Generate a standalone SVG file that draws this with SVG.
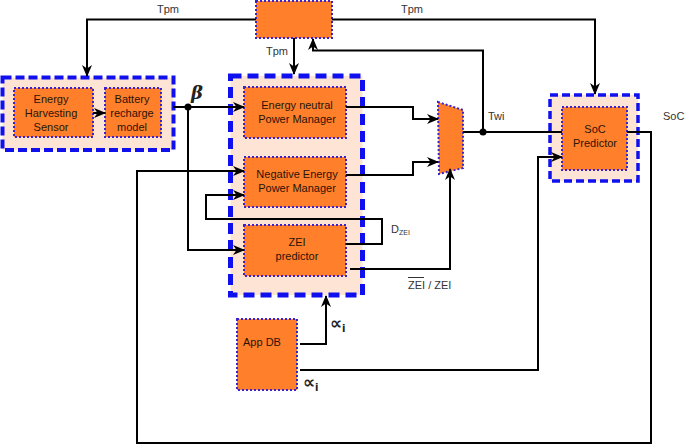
<svg xmlns="http://www.w3.org/2000/svg" width="685" height="447" viewBox="0 0 685 447">
<defs>
<marker id="arr" markerUnits="userSpaceOnUse" markerWidth="12" markerHeight="10" refX="11" refY="5" orient="auto">
<path d="M0,0 L12,5 L0,10 L3.5,5 z" fill="#000"/>
</marker>
<style>
.outer{fill:#fde4d4;stroke:#1010ee;stroke-width:5;stroke-dasharray:11 6}
.outerS{fill:#fde4d4;stroke:#1010ee;stroke-width:4;stroke-dasharray:9 4}
.blk{fill:#ff7f2a;stroke:#3a22cc;stroke-width:2;stroke-dasharray:2 2}
.t{font-family:"Liberation Sans",Arial,sans-serif;font-size:11px;fill:#2a1408;text-anchor:middle}
.ts{font-family:"Liberation Sans",Arial,sans-serif;font-size:11px;fill:#2a1408;text-anchor:start}
.lbl{font-family:"Liberation Sans",Arial,sans-serif;font-size:11px;fill:#333}
.w{fill:none;stroke:#000;stroke-width:2}
.sym{font-family:"DejaVu Sans",sans-serif;font-size:17px;font-weight:bold;fill:#222}
</style>
</defs>
<rect width="685" height="447" fill="#fff"/>

<g id="top-box">
<rect class="blk" x="256" y="1" width="76" height="37"/>
</g>

<g id="harvest-group">
<rect class="outerS" x="2.5" y="77.5" width="171" height="72.5"/>
</g>
<g id="energy-harvesting-sensor">
<rect class="blk" x="14" y="88" width="79" height="49"/>
<text class="t" x="51" y="103">Energy</text>
<text class="t" x="51" y="117">Harvesting</text>
<text class="t" x="51" y="131">Sensor</text>
</g>
<g id="battery-recharge-model">
<rect class="blk" x="105" y="88" width="56" height="49"/>
<text class="t" x="132" y="103">Battery</text>
<text class="t" x="132" y="117">recharge</text>
<text class="t" x="132" y="131">model</text>
</g>

<g id="power-manager-group">
<rect class="outer" x="230.5" y="76" width="132" height="219"/>
</g>
<g id="energy-neutral-pm">
<rect class="blk" x="244" y="87" width="102" height="51"/>
<text class="t" x="297" y="109">Energy neutral</text>
<text class="t" x="297" y="123">Power Manager</text>
</g>
<g id="negative-energy-pm">
<rect class="blk" x="244" y="157" width="102" height="50"/>
<text class="t" x="297" y="178">Negative Energy</text>
<text class="t" x="297" y="192">Power Manager</text>
</g>
<g id="zei-predictor">
<rect class="blk" x="244" y="225" width="102" height="51"/>
<text class="t" x="297" y="246">ZEI</text>
<text class="t" x="297" y="260">predictor</text>
</g>

<g id="mux">
<polygon class="blk" points="438,102 463,110 463,168 439,174"/>
</g>

<g id="soc-group">
<rect class="outerS" x="550" y="95" width="88" height="86" style="stroke-width:3.5;stroke-dasharray:8 4"/>
</g>
<g id="soc-predictor">
<rect class="blk" x="562" y="107" width="65" height="63"/>
<text class="t" x="595" y="133">SoC</text>
<text class="t" x="595" y="147">Predictor</text>
</g>

<g id="app-db">
<rect class="blk" x="237" y="319" width="60" height="71"/>
<text class="ts" x="243" y="346">App DB</text>
</g>

<g id="connectors">
<path class="w" d="M256,19.5 H87 V76" marker-end="url(#arr)"/>
<path class="w" d="M294,38 V74" marker-end="url(#arr)"/>
<path class="w" d="M332,19.5 H595 V94" marker-end="url(#arr)"/>
<path class="w" d="M463,132 H483 V50.5 H313 V39" marker-end="url(#arr)"/>
<path class="w" d="M93,113 H105" marker-end="url(#arr)"/>
<path class="w" d="M173,107 H244" marker-end="url(#arr)"/>
<path class="w" d="M188,107 V250 H244" marker-end="url(#arr)"/>
<circle cx="188" cy="107" r="3.5" fill="#000"/>
<path class="w" d="M346,107 H413 V119 H438" marker-end="url(#arr)"/>
<path class="w" d="M346,175 H413 V162 H438" marker-end="url(#arr)"/>
<path class="w" d="M346,244 H382 V219 H206 V195 H244" marker-end="url(#arr)"/>
<path class="w" d="M350,269 H450 V169" marker-end="url(#arr)"/>
<path class="w" d="M483,132 H562"/>
<circle cx="483" cy="132" r="3.5" fill="#000"/>
<path class="w" d="M627,132 H651 V443 H137 V171 H244" marker-end="url(#arr)"/>
<path class="w" d="M300,344 H326 V296" marker-end="url(#arr)"/>
<path class="w" d="M300,370 H538 V157 H562" marker-end="url(#arr)"/>
</g>

<g id="labels">
<text class="lbl" x="168" y="13" text-anchor="middle">Tpm</text>
<text class="lbl" x="412" y="13" text-anchor="middle">Tpm</text>
<text class="lbl" x="277" y="55" text-anchor="middle">Tpm</text>
<text class="lbl" x="488" y="120">Twi</text>
<text class="lbl" x="663" y="120">SoC</text>
<text class="lbl" x="391" y="233">D<tspan font-size="7" dy="2">ZEI</tspan></text>
<text class="lbl" x="408" y="289">ZEI / ZEI</text>
<line x1="408" y1="277.5" x2="424" y2="277.5" stroke="#333" stroke-width="1"/>
<text x="191" y="99" font-family="'DejaVu Serif',serif" font-style="italic" font-weight="bold" font-size="18" fill="#222">β</text>
<text class="sym" x="330" y="329">∝<tspan font-size="10" dy="3">i</tspan></text>
<text class="sym" x="303" y="388">∝<tspan font-size="10" dy="3">i</tspan></text>
</g>
</svg>
